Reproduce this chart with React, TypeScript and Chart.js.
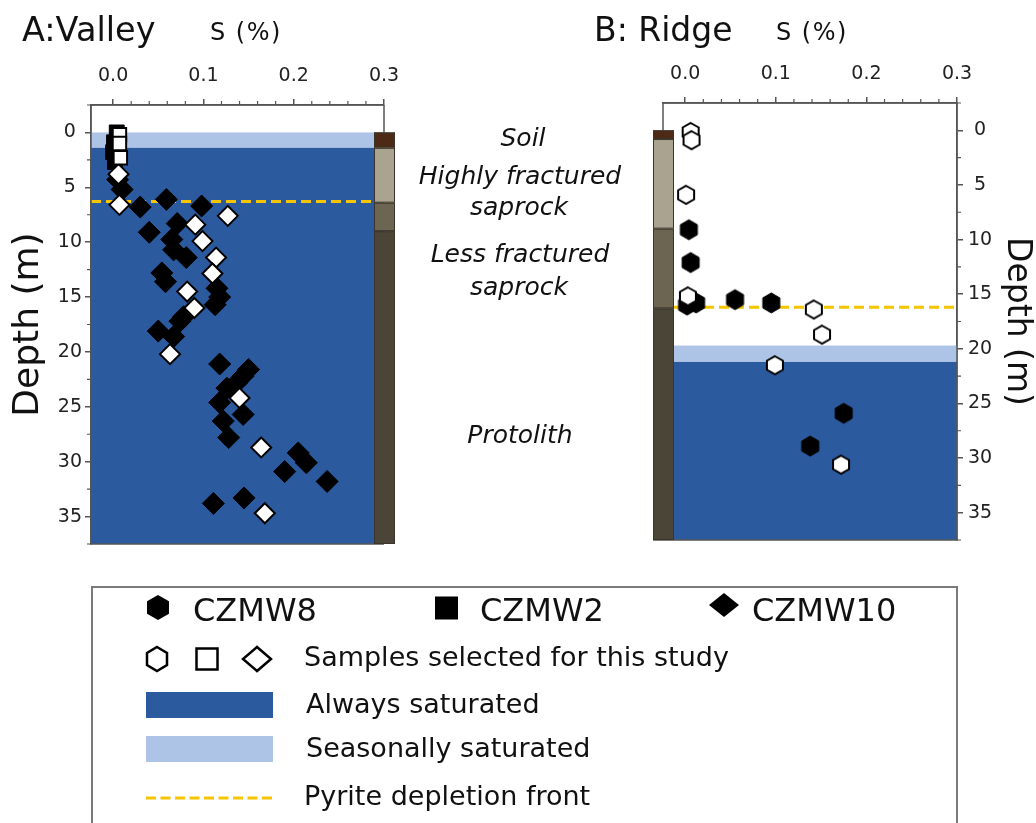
import React, { useEffect, useRef } from "react";
import { Chart, registerables } from "chart.js";
Chart.register(...registerables);

const FONT = "'DejaVu Sans', Verdana, sans-serif";

// ---------- axes ----------
const S_TICKS = [0, 0.1, 0.2, 0.3];
const S_MINOR_TICKS = [0.02, 0.04, 0.06, 0.08, 0.12, 0.14, 0.16, 0.18, 0.22, 0.24, 0.26, 0.28];
const DEPTH_TICKS = [0, 5, 10, 15, 20, 25, 30, 35];
const DEPTH_MINOR_TICKS = [-2.5, 2.5, 7.5, 12.5, 17.5, 22.5, 27.5, 32.5, 37.5];
const S_RANGE = [-0.0245, 0.3];
const DEPTH_RANGE = [-2.5, 37.5];

// ---------- A: Valley ----------
const VALLEY_CZMW10_S = [0.005, 0.01, 0.059, 0.03, 0.098, 0.071, 0.04, 0.065, 0.067, 0.081, 0.054, 0.058, 0.115, 0.118, 0.113, 0.078, 0.074, 0.05, 0.067, 0.118, 0.15, 0.144, 0.137, 0.126, 0.118, 0.144, 0.122, 0.128, 0.205, 0.214, 0.19, 0.237, 0.145, 0.111];
const VALLEY_CZMW10_DEPTH = [4.3, 5.2, 6.1, 6.8, 6.7, 8.3, 9.1, 9.75, 10.7, 11.4, 12.8, 13.6, 14.2, 15.0, 15.7, 16.8, 17.2, 18.1, 18.6, 21.1, 21.6, 22.2, 22.8, 23.3, 24.6, 25.7, 26.3, 27.8, 29.2, 30.1, 30.9, 31.8, 33.3, 33.8];
const VALLEY_CZMW10_SEL_S = [0.006, 0.007, 0.127, 0.091, 0.099, 0.114, 0.11, 0.082, 0.09, 0.063, 0.14, 0.164, 0.168];
const VALLEY_CZMW10_SEL_DEPTH = [3.8, 6.6, 7.6, 8.4, 9.9, 11.4, 12.85, 14.5, 16.0, 20.2, 24.2, 28.7, 34.7];
const VALLEY_CZMW2_S = [0.004, 0.005, 0.001, 0.0, 0.002];
const VALLEY_CZMW2_DEPTH = [0.0, 0.3, 0.9, 1.8, 2.7];
const VALLEY_CZMW2_SEL_S = [0.007, 0.007, 0.008];
const VALLEY_CZMW2_SEL_DEPTH = [0.2, 1.0, 2.3];
const VALLEY_SEASONAL = [0, 1.4];
const VALLEY_ALWAYS = [1.4, 37.5];
const VALLEY_PYRITE = 6.3;
const VALLEY_LAYERS = [0, 1.4, 6.4, 9.0, 37.5];

// ---------- B: Ridge ----------
const RIDGE_CZMW8_S = [0.004, 0.006, 0.002, 0.012, 0.055, 0.095, 0.175, 0.138];
const RIDGE_CZMW8_DEPTH = [9.1, 12.1, 16.0, 15.8, 15.5, 15.8, 25.9, 28.9];
const RIDGE_CZMW8_SEL_S = [0.006, 0.007, 0.001, 0.003, 0.142, 0.151, 0.099, 0.172];
const RIDGE_CZMW8_SEL_DEPTH = [0.15, 0.9, 5.9, 15.2, 16.4, 18.7, 21.5, 30.6];
const RIDGE_SEASONAL = [19.7, 21.2];
const RIDGE_ALWAYS = [21.2, 37.5];
const RIDGE_PYRITE = 16.2;
const RIDGE_LAYERS = [0, 0.8, 9.0, 16.3, 37.5];

// ---------- labels ----------
const ZONE_LABELS = ["Soil", "Highly fractured", "saprock", "Less fractured", "saprock", "Protolith"];
const SERIES_NAMES = ["CZMW8", "CZMW2", "CZMW10"];
const LEGEND_TEXTS = ["Samples selected for this study", "Always saturated", "Seasonally saturated", "Pyrite depletion front"];

const DARK_BLUE = "#2c5a9e";
const LIGHT_BLUE = "#aec4e7";
const YELLOW = "#f7c400";
const LAYER_COLORS = ["#4e2a16", "#a9a390", "#6b6551", "#4a4536"];
const AXIS = "#555";

const pts = (xs: number[], ys: number[]) => xs.map((x, i) => ({ x, y: ys[i] }));

function makeHex(w: number, h: number, fill: string, stroke: string, lw: number) {
  const c = document.createElement("canvas");
  const pad = Math.ceil(lw) + 1;
  c.width = Math.ceil(w + pad * 2);
  c.height = Math.ceil(h + pad * 2);
  const g = c.getContext("2d")!;
  const cx = c.width / 2, cy = c.height / 2;
  g.beginPath();
  g.moveTo(cx, cy - h / 2);
  g.lineTo(cx + w / 2, cy - h / 4);
  g.lineTo(cx + w / 2, cy + h / 4);
  g.lineTo(cx, cy + h / 2);
  g.lineTo(cx - w / 2, cy + h / 4);
  g.lineTo(cx - w / 2, cy - h / 4);
  g.closePath();
  g.fillStyle = fill;
  g.fill();
  if (lw > 0) {
    g.lineWidth = lw;
    g.strokeStyle = stroke;
    g.stroke();
  }
  return c;
}

type PanelOpts = {
  id: string;
  seasonal: number[];
  always: number[];
  pyrite: number;
  layers: number[];
  stripSide: "left" | "right";
};

function panelPlugin(o: PanelOpts) {
  const stripX = (a: any) => (o.stripSide === "right" ? a.right - 10 : a.left - 10);
  return {
    id: o.id,
    beforeDatasetsDraw(chart: any) {
      const { ctx, chartArea: a, scales } = chart;
      const y = scales.y;
      ctx.save();
      const band = (r: number[], color: string) => {
        const y0 = y.getPixelForValue(r[0]);
        const y1 = y.getPixelForValue(r[1]);
        ctx.fillStyle = color;
        ctx.fillRect(a.left, y0, a.right - a.left, y1 - y0);
      };
      band(o.seasonal, LIGHT_BLUE);
      band(o.always, DARK_BLUE);
      const sx = stripX(a);
      const py = y.getPixelForValue(o.pyrite);
      ctx.strokeStyle = YELLOW;
      ctx.lineWidth = 3;
      ctx.setLineDash([10, 5]);
      ctx.beginPath();
      if (o.stripSide === "right") {
        ctx.moveTo(a.left, py);
        ctx.lineTo(sx, py);
      } else {
        ctx.moveTo(sx + 21, py);
        ctx.lineTo(a.right, py);
      }
      ctx.stroke();
      ctx.restore();
    },
    afterDraw(chart: any) {
      const { ctx, chartArea: a, scales } = chart;
      const x = scales.x, y = scales.y;
      const sx = stripX(a);
      const y0 = y.getPixelForValue(0);
      ctx.save();
      ctx.strokeStyle = AXIS;
      ctx.lineWidth = 1.5;
      ctx.beginPath();
      ctx.moveTo(a.left, a.top);
      ctx.lineTo(a.right, a.top);
      if (o.stripSide === "right") {
        ctx.moveTo(a.left, a.top);
        ctx.lineTo(a.left, a.bottom);
        ctx.lineTo(a.right, a.bottom);
        ctx.moveTo(a.right, a.top);
        ctx.lineTo(a.right, y0);
      } else {
        ctx.moveTo(a.right, a.top);
        ctx.lineTo(a.right, a.bottom);
        ctx.lineTo(sx, a.bottom);
        ctx.moveTo(a.left, a.top);
        ctx.lineTo(a.left, y0);
      }
      ctx.stroke();
      // minor ticks
      ctx.lineWidth = 1.2;
      ctx.beginPath();
      S_MINOR_TICKS.forEach((v) => {
        const px = x.getPixelForValue(v);
        ctx.moveTo(px, a.top);
        ctx.lineTo(px, a.top - 4);
      });
      DEPTH_MINOR_TICKS.forEach((v) => {
        const py = y.getPixelForValue(v);
        if (o.stripSide === "right") {
          ctx.moveTo(a.left, py);
          ctx.lineTo(a.left - 4, py);
        } else {
          ctx.moveTo(a.right, py);
          ctx.lineTo(a.right + 4, py);
        }
      });
      ctx.stroke();
      // lithology strip
      ctx.lineWidth = 1;
      ctx.strokeStyle = "#3a352a";
      for (let i = 0; i < o.layers.length - 1; i++) {
        const t = y.getPixelForValue(o.layers[i]);
        const b = y.getPixelForValue(o.layers[i + 1]);
        ctx.fillStyle = LAYER_COLORS[i];
        ctx.fillRect(sx, t, 21, b - t);
        ctx.strokeRect(sx + 0.5, t + 0.5, 20, b - t - 1);
      }
      ctx.restore();
    },
  };
}

function axes(yPos: "left" | "right", top: number, yWidth: number, yPad: number, titleSize: number, titlePad: number) {
  const grid = { display: true, drawOnChartArea: false, drawTicks: true, tickLength: 6, color: AXIS, lineWidth: 1.5 };
  const border = { display: true, color: AXIS, width: 1.5 };
  return {
    x: {
      type: "linear",
      position: "top",
      min: S_RANGE[0],
      max: S_RANGE[1],
      afterBuildTicks: (s: any) => {
        s.ticks = S_TICKS.map((v) => ({ value: v }));
      },
      afterFit: (s: any) => {
        s.height = top;
      },
      ticks: {
        font: { family: FONT, size: 19 },
        color: "#222",
        padding: 12,
        autoSkip: false,
        maxRotation: 0,
        callback: (v: any) => Number(v).toFixed(1),
      },
      grid,
      border,
    },
    y: {
      type: "linear",
      position: yPos,
      reverse: true,
      min: DEPTH_RANGE[0],
      max: DEPTH_RANGE[1],
      afterBuildTicks: (s: any) => {
        s.ticks = DEPTH_TICKS.map((v) => ({ value: v }));
      },
      afterFit: (s: any) => {
        s.width = yWidth;
      },
      ticks: {
        font: { family: FONT, size: 19 },
        color: "#222",
        padding: yPad,
        crossAlign: "center",
        autoSkip: false,
        callback: (v: any) => String(v),
      },
      grid,
      border,
      title: {
        display: true,
        text: "Depth (m)",
        color: "#111",
        font: { family: FONT, size: titleSize },
        padding: { top: titlePad, bottom: 0 },
      },
    },
  };
}

const hexPoints = (cx: number, cy: number, w: number, h: number) =>
  [
    [cx, cy - h / 2],
    [cx + w / 2, cy - h / 4],
    [cx + w / 2, cy + h / 4],
    [cx, cy + h / 2],
    [cx - w / 2, cy + h / 4],
    [cx - w / 2, cy - h / 4],
  ]
    .map((p) => p.join(","))
    .join(" ");
const diamondPoints = (cx: number, cy: number, w: number, h: number) =>
  [
    [cx, cy - h / 2],
    [cx + w / 2, cy],
    [cx, cy + h / 2],
    [cx - w / 2, cy],
  ]
    .map((p) => p.join(","))
    .join(" ");

export default function App() {
  const refA = useRef<HTMLCanvasElement>(null);
  const refB = useRef<HTMLCanvasElement>(null);

  useEffect(() => {
    const hexFilled = makeHex(17, 20, "#000", "#000", 1);
    const hexOpen = makeHex(16, 18, "#fff", "#000", 2);

    const chartA = new Chart(refA.current!, {
      type: "scatter",
      data: {
        datasets: [
          { label: "CZMW2 selected", data: pts(VALLEY_CZMW2_SEL_S, VALLEY_CZMW2_SEL_DEPTH), pointStyle: "rect", pointRadius: 9.5, backgroundColor: "#fff", borderColor: "#000", borderWidth: 2, order: 0 },
          { label: "CZMW10 selected", data: pts(VALLEY_CZMW10_SEL_S, VALLEY_CZMW10_SEL_DEPTH), pointStyle: "rectRot", pointRadius: 10, backgroundColor: "#fff", borderColor: "#000", borderWidth: 2, order: 0 },
          { label: "CZMW2", data: pts(VALLEY_CZMW2_S, VALLEY_CZMW2_DEPTH), pointStyle: "rect", pointRadius: 10.5, backgroundColor: "#000", borderColor: "#000", borderWidth: 1, order: 2 },
          { label: "CZMW10", data: pts(VALLEY_CZMW10_S, VALLEY_CZMW10_DEPTH), pointStyle: "rectRot", pointRadius: 11, backgroundColor: "#000", borderColor: "#000", borderWidth: 1, order: 2 },
        ],
      } as any,
      options: {
        responsive: false,
        animation: false,
        events: [],
        layout: { padding: { left: 0, top: 0, right: 1036 - 384, bottom: 823 - 544 } },
        plugins: { legend: { display: false }, tooltip: { enabled: false } },
        scales: axes("left", 105, 91, 3, 36, 7) as any,
      },
      plugins: [
        panelPlugin({ id: "valley", seasonal: VALLEY_SEASONAL, always: VALLEY_ALWAYS, pyrite: VALLEY_PYRITE, layers: VALLEY_LAYERS, stripSide: "right" }),
      ],
    });

    const chartB = new Chart(refB.current!, {
      type: "scatter",
      data: {
        datasets: [
          { label: "CZMW8 selected", data: pts(RIDGE_CZMW8_SEL_S, RIDGE_CZMW8_SEL_DEPTH), pointStyle: hexOpen, pointRadius: 9, order: 0 },
          { label: "CZMW8", data: pts(RIDGE_CZMW8_S, RIDGE_CZMW8_DEPTH), pointStyle: hexFilled, pointRadius: 9, order: 2 },
        ],
      } as any,
      options: {
        responsive: false,
        animation: false,
        events: [],
        layout: { padding: { left: 663, top: 0, right: 0, bottom: 823 - 540 } },
        plugins: { legend: { display: false }, tooltip: { enabled: false } },
        scales: axes("right", 103, 1036 - 957, 5, 33, 0) as any,
      },
      plugins: [
        panelPlugin({ id: "ridge", seasonal: RIDGE_SEASONAL, always: RIDGE_ALWAYS, pyrite: RIDGE_PYRITE, layers: RIDGE_LAYERS, stripSide: "left" }),
      ],
    });

    return () => {
      chartA.destroy();
      chartB.destroy();
    };
  }, []);

  const zonePos = [
    [523, 146],
    [520, 184],
    [519, 215],
    [520, 262],
    [519, 295],
    [520, 443],
  ];

  return (
    <div style={{ position: "absolute", left: 0, top: 0, width: 1036, height: 823, overflow: "hidden", background: "#fff" }}>
      <canvas ref={refA} width={1036} height={823} style={{ position: "absolute", left: 0, top: 0 }} />
      <canvas ref={refB} width={1036} height={823} style={{ position: "absolute", left: 0, top: 0 }} />
      <svg width={1036} height={823} style={{ position: "absolute", left: 0, top: 0, pointerEvents: "none" }} fontFamily={FONT} fill="#111">
        <text x={22} y={41} fontSize={33.5}>A:Valley</text>
        <text x={210} y={40} fontSize={24} letterSpacing={1.5}>S (%)</text>
        <text x={594} y={41} fontSize={33}>B: Ridge</text>
        <text x={776} y={40} fontSize={24} letterSpacing={1.5}>S (%)</text>
        {ZONE_LABELS.map((t, i) => (
          <text key={i} x={zonePos[i][0]} y={zonePos[i][1]} fontSize={25} fontStyle="italic" textAnchor="middle">
            {t}
          </text>
        ))}

        {/* legend */}
        <rect x={92} y={587} width={865} height={260} fill="none" stroke="#7a7a7a" strokeWidth={2} />
        <polygon points={hexPoints(158, 607.5, 22, 25)} fill="#000" />
        <text x={193} y={621} fontSize={32}>{SERIES_NAMES[0]}</text>
        <rect x={435} y={596.5} width={23} height={23} fill="#000" />
        <text x={480} y={621} fontSize={32}>{SERIES_NAMES[1]}</text>
        <polygon points={diamondPoints(724, 605, 30, 24)} fill="#000" />
        <text x={752} y={621} fontSize={32}>{SERIES_NAMES[2]}</text>

        <polygon points={hexPoints(157, 659, 20, 24)} fill="#fff" stroke="#000" strokeWidth={2.5} />
        <rect x={196.5} y={648.5} width={21} height={21} fill="#fff" stroke="#000" strokeWidth={2.5} />
        <polygon points={diamondPoints(257, 659, 28, 24)} fill="#fff" stroke="#000" strokeWidth={2.5} />
        <text x={304} y={666} fontSize={27}>{LEGEND_TEXTS[0]}</text>

        <rect x={146} y={692} width={127} height={26} fill={DARK_BLUE} />
        <text x={306} y={713} fontSize={27}>{LEGEND_TEXTS[1]}</text>
        <rect x={146} y={736} width={127} height={26} fill={LIGHT_BLUE} />
        <text x={306} y={757} fontSize={27}>{LEGEND_TEXTS[2]}</text>
        <line x1={146} y1={798} x2={273} y2={798} stroke={YELLOW} strokeWidth={3} strokeDasharray="10 4.5" />
        <text x={304} y={805} fontSize={27}>{LEGEND_TEXTS[3]}</text>
      </svg>
    </div>
  );
}
